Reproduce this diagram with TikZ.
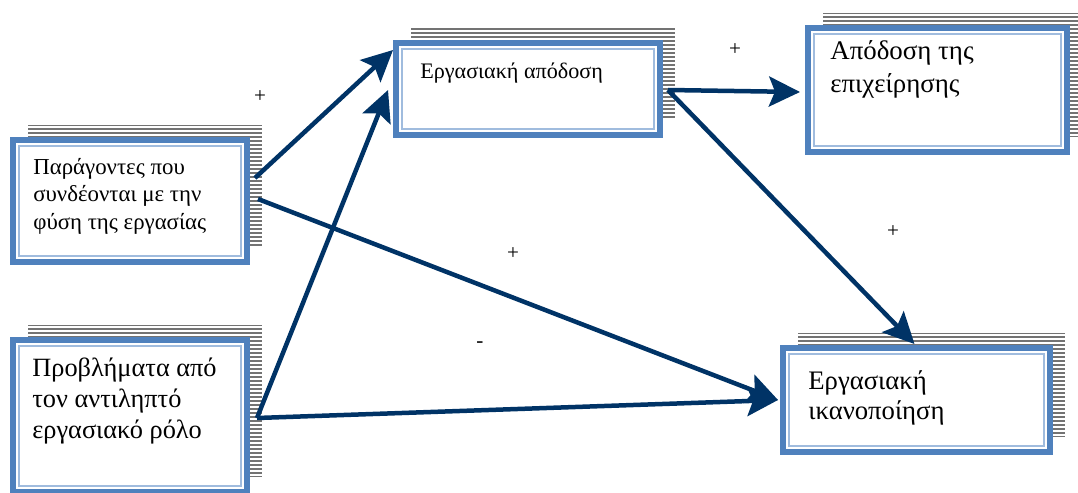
\documentclass[tikz,border=0pt]{standalone}
\usepackage{fontspec}
\setmainfont{Liberation Serif}
\usepackage{tikz}
\usetikzlibrary{arrows.meta,calc,patterns.meta}

\definecolor{frameblue}{RGB}{79,129,189}
\definecolor{innerblue}{RGB}{160,188,222}
\definecolor{arrowblue}{RGB}{0,51,102}
\definecolor{shadowgray}{RGB}{115,115,115}

\tikzset{
  box/.style={draw=frameblue, line width=0.12cm, fill=white, inner sep=0pt, outer sep=0pt,
    preaction={draw=none, pattern={Lines[angle=0,distance=0.08cm,line width=0.05cm]},
      pattern color=shadowgray, transform canvas={shift={(0.3cm,0.3cm)}}}},
  boxtext/.style={anchor=north west, align=left, inner sep=0pt},
  link/.style={-{Stealth[length=0.62cm,width=0.6cm,inset=0.12cm]}, line width=0.09cm, draw=arrowblue},
  sign/.style={font=\large, inner sep=0pt}
}

\begin{document}
\begin{tikzpicture}[x=0.02cm,y=-0.02cm]
    \useasboundingbox (0,0) rectangle (1078,493);
    % Draw the five boxes
    \node[box, minimum width=4.68cm, minimum height=2.44cm] (fac) at (130,201) {};
    \node[box, minimum width=4.68cm, minimum height=3.04cm] (prob) at (130,416) {};
    \node[box, minimum width=5.28cm, minimum height=1.84cm] (perf) at (528,89) {};
    \node[box, minimum width=5.34cm, minimum height=2.08cm] (sat) at (916.5,400) {};
    \node[box, minimum width=5.18cm, minimum height=2.48cm] (firm) at (937.5,90) {};
    % Inner light frame of every box
    \foreach \b in {fac,prob,perf,sat,firm}
        \draw[innerblue, line width=0.04cm] ($(\b.south west)+(6,-6)$) rectangle ($(\b.north east)+(-6,6)$);

    % Texts of the boxes
    \node[boxtext, font=\fontsize{13}{15.6}\selectfont] (facT) at (33,158)
        {Παράγοντες που\\συνδέονται με την\\φύση της εργασίας};
    \node[boxtext, font=\fontsize{15}{17.6}\selectfont] (probT) at (32,358)
        {Προβλήματα από\\τον αντιληπτό\\εργασιακό ρόλο};
    \node[boxtext, font=\fontsize{12.6}{15}\selectfont] (perfT) at (420,63)
        {Εργασιακή απόδοση};
    \node[boxtext, font=\fontsize{15.2}{17.2}\selectfont] (satT) at (808,370)
        {Εργασιακή\\ικανοποίηση};
    \node[boxtext, font=\fontsize{15.3}{18.8}\selectfont] (firmT) at (830,40)
        {Απόδοση της\\επιχείρησης};

    % Start and end points of the arrows
    \coordinate (facA) at ($(fac.east)+(8,-23)$);
    \coordinate (facB) at ($(fac.east)+(11,-2)$);
    \coordinate (probA) at ($(prob.east)+(10,2)$);
    \coordinate (perfA) at ($(perf.east)+(8,1)$);
    \coordinate (perfIn1) at ($(perf.west)+(-3,-39)$);
    \coordinate (perfIn2) at ($(perf.west)+(-8,1)$);
    \coordinate (firmIn) at ($(firm.west)+(-8,2)$);
    \coordinate (satIn) at ($(sat.west)+(-5,0)$);
    \coordinate (satTop) at ($(sat.north)+(-2,-4)$);

    % Draw the arrows
    \draw[link] (facA) -- (perfIn1);
    \draw[link] (probA) -- (perfIn2);
    \draw[link] (facB) -- (satIn);
    \draw[link] (probA) -- (satIn);
    \draw[link] (perfA) -- (firmIn);
    \draw[link] (perfA) -- (satTop);

    % Signs of the effects
    \node[sign] (s1) at (260,97) {+};
    \node[sign] (s2) at (735,50) {+};
    \node[sign] (s3) at (513,254) {+};
    \node[sign] (s4) at (480,345) {-};
    \node[sign] (s5) at (893,232) {+};
\end{tikzpicture}
\end{document}
